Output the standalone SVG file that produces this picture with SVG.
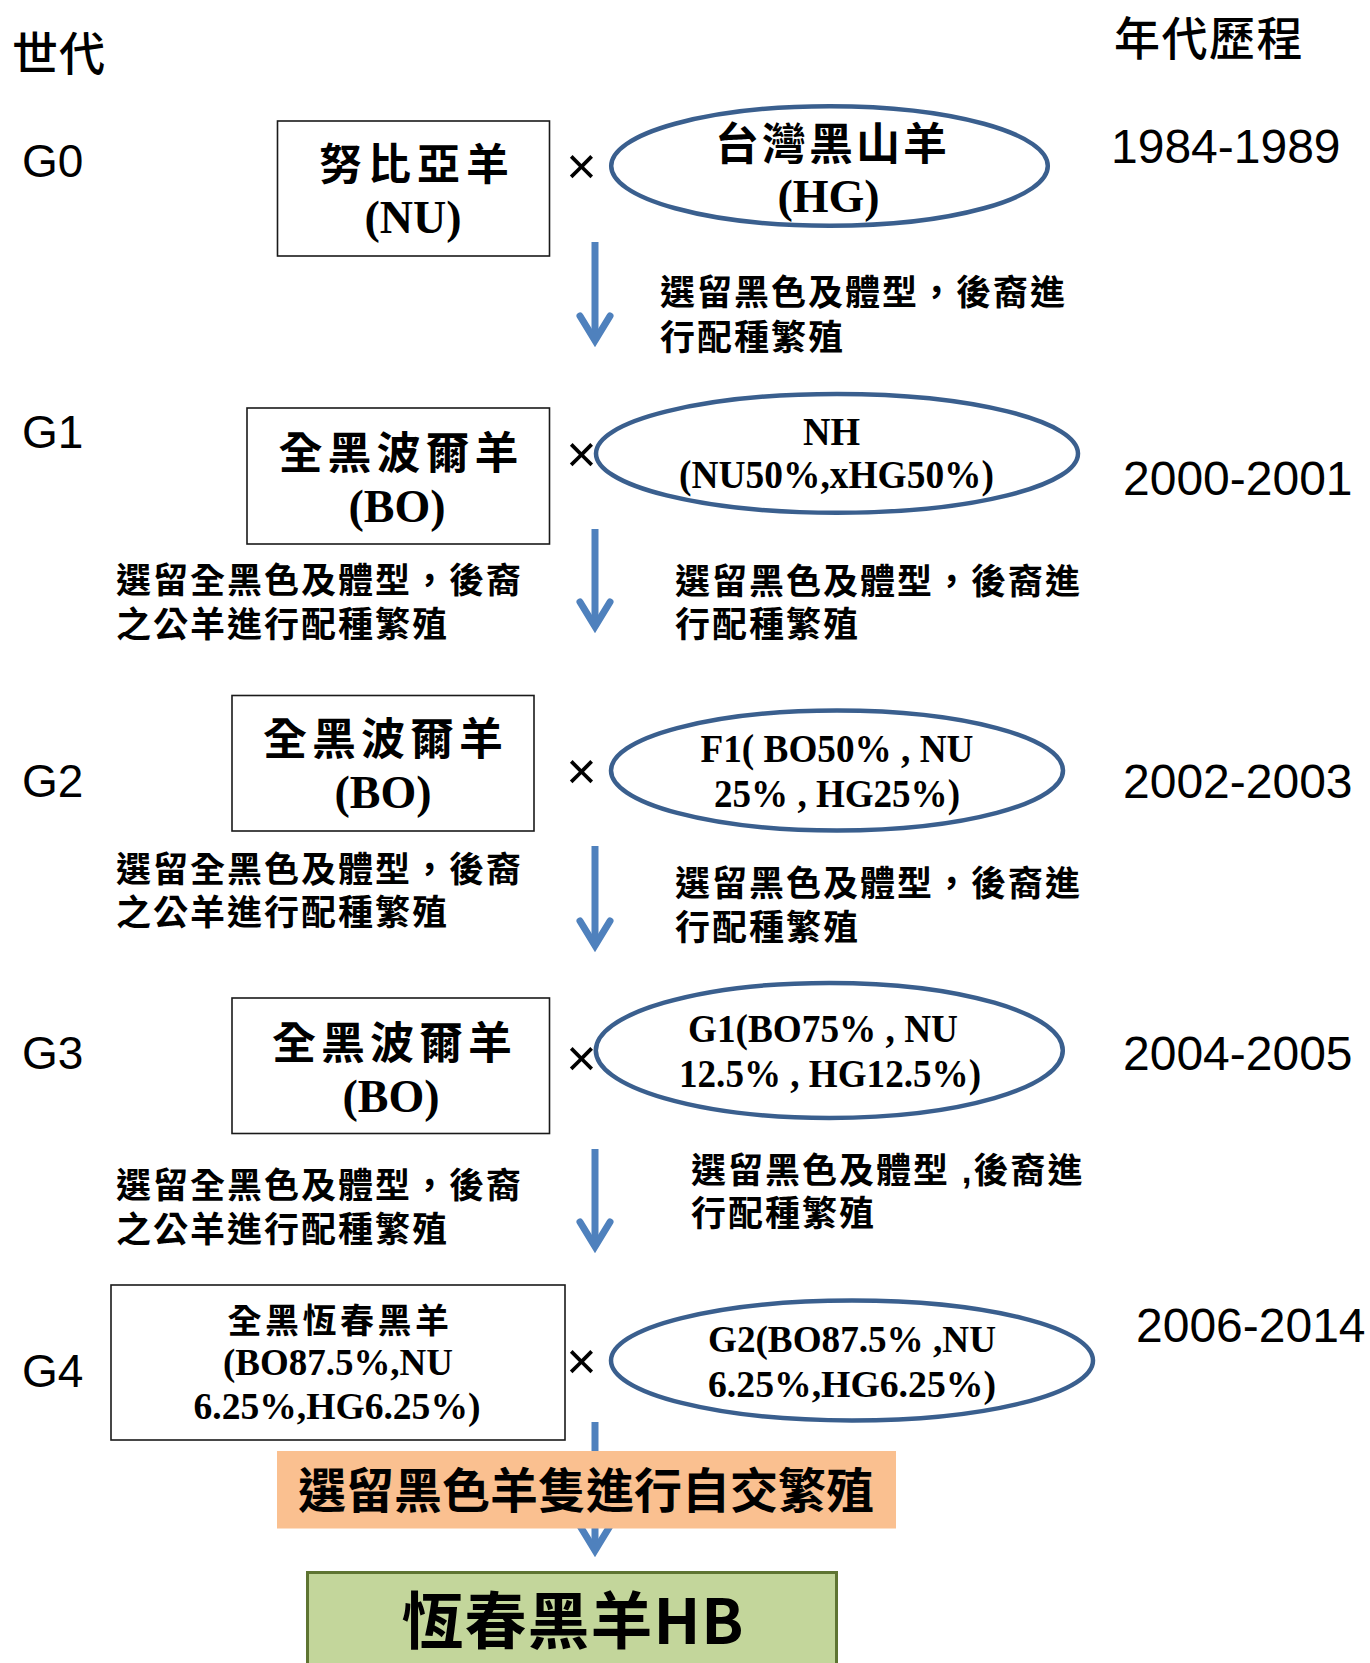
<svg xmlns="http://www.w3.org/2000/svg" width="1370" height="1663" viewBox="0 0 1370 1663">
<style>
.ttl{font-family:"Noto Sans CJK TC","Noto Sans CJK SC",sans-serif;font-weight:500;font-size:46px;fill:#000}
.kai{font-family:"Noto Sans CJK TC","Noto Sans CJK SC",sans-serif;font-weight:700;fill:#000}
.side{font-family:"Liberation Sans","Noto Sans CJK TC","Noto Sans CJK SC",sans-serif;font-weight:700;font-size:35px;letter-spacing:2px;fill:#000}
.tnr{font-family:"Liberation Serif","Times New Roman",serif;font-weight:700;fill:#000}
.gen{font-family:"Liberation Sans",Arial,sans-serif;font-size:46px;fill:#000}
.yr{font-family:"Liberation Sans",Arial,sans-serif;font-size:48px;fill:#000}
.cross{font-family:"Liberation Sans",Arial,sans-serif;font-size:52px;fill:#000}
.box{fill:#fff;stroke:#1a1a1a;stroke-width:1.6}
.ell{fill:#fff;stroke:#3a5f8e;stroke-width:4.5}
.shaft{fill:none;stroke:#4f81bd;stroke-width:7}
.head{fill:none;stroke:#4f81bd;stroke-width:7;stroke-linecap:round;stroke-linejoin:miter;stroke-miterlimit:10}
</style>

<g id="labels">
  <text class="ttl" x="12" y="70" letter-spacing="1">世代</text>
  <text class="ttl" x="1114" y="55" letter-spacing="1.5">年代歷程</text>
  <text class="gen" x="22" y="177">G0</text>
  <text class="gen" x="22" y="448">G1</text>
  <text class="gen" x="22" y="797">G2</text>
  <text class="gen" x="22" y="1069">G3</text>
  <text class="gen" x="22" y="1387">G4</text>
  <text class="yr" x="1111" y="163">1984-1989</text>
  <text class="yr" x="1123" y="495">2000-2001</text>
  <text class="yr" x="1123" y="798">2002-2003</text>
  <text class="yr" x="1123" y="1070">2004-2005</text>
  <text class="yr" x="1136" y="1342">2006-2014</text>
  <text class="cross" x="581.5" y="184" text-anchor="middle">×</text>
  <text class="cross" x="581.5" y="472" text-anchor="middle">×</text>
  <text class="cross" x="581.5" y="789" text-anchor="middle">×</text>
  <text class="cross" x="581.5" y="1076" text-anchor="middle">×</text>
  <text class="cross" x="581.5" y="1379" text-anchor="middle">×</text>
</g>

<g id="connectors">
  <line class="shaft" x1="595" y1="242" x2="595" y2="338"/>
  <polyline class="head" points="580,316 595,340.5 610,316"/>
  <line class="shaft" x1="595" y1="529" x2="595" y2="624"/>
  <polyline class="head" points="580,602 595,626.5 610,602"/>
  <line class="shaft" x1="595" y1="846" x2="595" y2="943"/>
  <polyline class="head" points="580,921 595,945.5 610,921"/>
  <line class="shaft" x1="595" y1="1149" x2="595" y2="1244"/>
  <polyline class="head" points="580,1222 595,1246.5 610,1222"/>
  <line class="shaft" x1="595" y1="1422" x2="595" y2="1548"/>
  <polyline class="head" points="580,1526 595,1550.5 610,1526"/>
</g>

<g id="side-notes">
  <text class="side"><tspan x="660" y="305">選留黑色及體型，後裔進</tspan><tspan x="660" y="350">行配種繁殖</tspan></text>
  <text class="side"><tspan x="116" y="593">選留全黑色及體型，後裔</tspan><tspan x="116" y="637">之公羊進行配種繁殖</tspan></text>
  <text class="side"><tspan x="675" y="594">選留黑色及體型，後裔進</tspan><tspan x="675" y="637">行配種繁殖</tspan></text>
  <text class="side"><tspan x="116" y="882">選留全黑色及體型，後裔</tspan><tspan x="116" y="925">之公羊進行配種繁殖</tspan></text>
  <text class="side"><tspan x="675" y="896">選留黑色及體型，後裔進</tspan><tspan x="675" y="940">行配種繁殖</tspan></text>
  <text class="side"><tspan x="116" y="1198">選留全黑色及體型，後裔</tspan><tspan x="116" y="1242">之公羊進行配種繁殖</tspan></text>
  <text class="side"><tspan x="691" y="1183">選留黑色及體型 ,後裔進</tspan><tspan x="691" y="1226">行配種繁殖</tspan></text>
</g>

<g id="node-NU">
  <rect class="box" x="277.5" y="121" width="272" height="135"/>
  <text class="kai" x="417" y="180" font-size="43" letter-spacing="6" text-anchor="middle">努比亞羊</text>
  <text class="tnr" x="413" y="233" font-size="46" text-anchor="middle">(NU)</text>
</g>
<g id="node-HG">
  <ellipse class="ell" cx="829.5" cy="166" rx="218.3" ry="59.8"/>
  <text class="kai" x="832.5" y="160" font-size="44" letter-spacing="3" text-anchor="middle">台灣黑山羊</text>
  <text class="tnr" x="828.5" y="212" font-size="46" text-anchor="middle">(HG)</text>
</g>

<g id="node-BO1">
  <rect class="box" x="247" y="408" width="302.5" height="136"/>
  <text class="kai" x="401" y="469" font-size="44" letter-spacing="5" text-anchor="middle">全黑波爾羊</text>
  <text class="tnr" x="397" y="522" font-size="46" text-anchor="middle">(BO)</text>
</g>
<g id="node-NH">
  <ellipse class="ell" cx="837" cy="453.4" rx="241" ry="59.4"/>
  <text class="tnr" x="831.5" y="445" font-size="40" text-anchor="middle" textLength="57" lengthAdjust="spacingAndGlyphs">NH</text>
  <text class="tnr" x="836.5" y="488" font-size="40" text-anchor="middle" textLength="315" lengthAdjust="spacingAndGlyphs">(NU50%,xHG50%)</text>
</g>

<g id="node-BO2">
  <rect class="box" x="232" y="695.5" width="302" height="135.5"/>
  <text class="kai" x="385.5" y="755" font-size="44" letter-spacing="5" text-anchor="middle">全黑波爾羊</text>
  <text class="tnr" x="383" y="808" font-size="46" text-anchor="middle">(BO)</text>
</g>
<g id="node-F1">
  <ellipse class="ell" cx="837" cy="770.5" rx="226" ry="60"/>
  <text class="tnr" x="837" y="762" font-size="40" text-anchor="middle" textLength="273" lengthAdjust="spacingAndGlyphs">F1( BO50% , NU</text>
  <text class="tnr" x="837" y="807" font-size="40" text-anchor="middle" textLength="246" lengthAdjust="spacingAndGlyphs">25% , HG25%)</text>
</g>

<g id="node-BO3">
  <rect class="box" x="232" y="998" width="317.5" height="135.5"/>
  <text class="kai" x="394.5" y="1059" font-size="44" letter-spacing="5" text-anchor="middle">全黑波爾羊</text>
  <text class="tnr" x="391" y="1112" font-size="46" text-anchor="middle">(BO)</text>
</g>
<g id="node-G1">
  <ellipse class="ell" cx="829.3" cy="1050.4" rx="233.5" ry="67.5"/>
  <text class="tnr" x="823" y="1042" font-size="40" text-anchor="middle" textLength="270" lengthAdjust="spacingAndGlyphs">G1(BO75% , NU</text>
  <text class="tnr" x="830" y="1087" font-size="40" text-anchor="middle" textLength="302" lengthAdjust="spacingAndGlyphs">12.5% , HG12.5%)</text>
</g>

<g id="node-G4box">
  <rect class="box" x="111" y="1285" width="454" height="155"/>
  <text class="kai" x="340" y="1333" font-size="34" letter-spacing="3.5" text-anchor="middle">全黑恆春黑羊</text>
  <text class="tnr" x="338" y="1375" font-size="37" text-anchor="middle" textLength="230" lengthAdjust="spacingAndGlyphs">(BO87.5%,NU</text>
  <text class="tnr" x="337" y="1419" font-size="37" text-anchor="middle" textLength="287" lengthAdjust="spacingAndGlyphs">6.25%,HG6.25%)</text>
</g>
<g id="node-G2">
  <ellipse class="ell" cx="852" cy="1360.5" rx="241" ry="60"/>
  <text class="tnr" x="852" y="1352" font-size="38" text-anchor="middle" textLength="288" lengthAdjust="spacingAndGlyphs">G2(BO87.5% ,NU</text>
  <text class="tnr" x="852" y="1397" font-size="38" text-anchor="middle" textLength="288" lengthAdjust="spacingAndGlyphs">6.25%,HG6.25%)</text>
</g>

<g id="node-selfcross">
  <rect x="277" y="1451" width="619" height="77.5" fill="#fac090"/>
  <text class="kai" x="586" y="1508" font-size="48" text-anchor="middle">選留黑色羊隻進行自交繁殖</text>
</g>

<g id="node-HB">
  <rect x="307.5" y="1572.5" width="529" height="110" fill="#c3d69b" stroke="#5e7432" stroke-width="3"/>
  <text class="kai" x="573" y="1644" font-size="62" letter-spacing="1" text-anchor="middle">恆春黑羊HB</text>
</g>
</svg>
